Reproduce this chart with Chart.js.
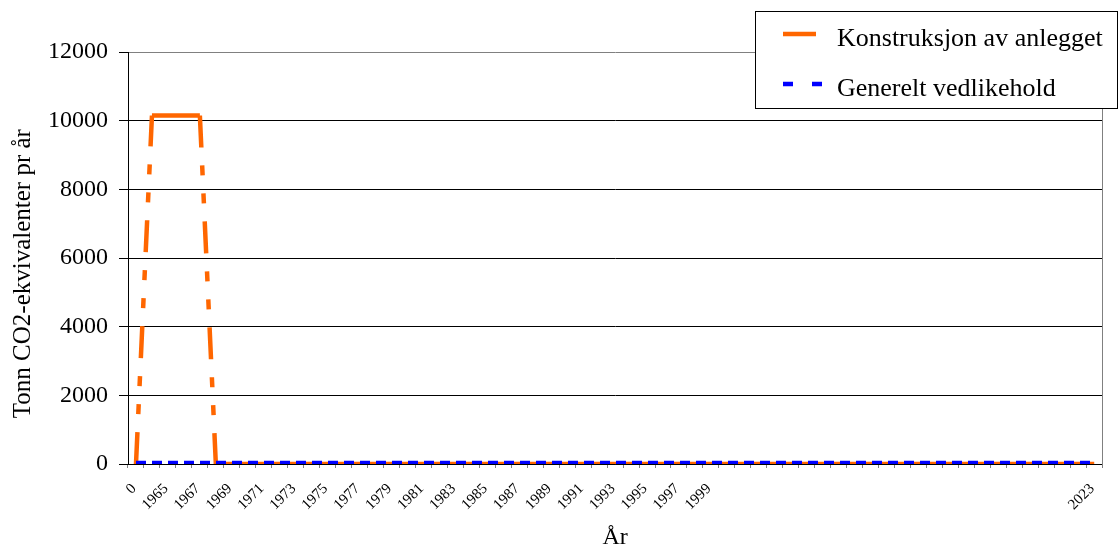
<!DOCTYPE html>
<html>
<head>
<meta charset="utf-8">
<script src="https://cdn.jsdelivr.net/npm/chart.js@4.4.1/dist/chart.umd.min.js"></script>
<style>
  body { margin: 0; background: #fff; }
  #wrap { width: 1119px; height: 548px; position: relative; }
</style>
</head>
<body>
<div id="wrap"><canvas id="co2Chart"></canvas></div>
<script>
// =========================
// DATA
// =========================

const categories = [
  '0', '1964', '1965', '1966', '1967', '1968', '1969', '1970', '1971', '1972',
  '1973', '1974', '1975', '1976', '1977', '1978', '1979', '1980', '1981', '1982',
  '1983', '1984', '1985', '1986', '1987', '1988', '1989', '1990', '1991', '1992',
  '1993', '1994', '1995', '1996', '1997', '1998', '1999', '', '', '',
  '', '', '', '', '', '', '', '', '', '',
  '', '', '', '', '', '', '', '', '', '',
  '2023'
];

const konstruksjon = [
  0, 10150, 10150, 10150, 10150, 0, 0, 0, 0, 0,
  0, 0, 0, 0, 0, 0, 0, 0, 0, 0,
  0, 0, 0, 0, 0, 0, 0, 0, 0, 0,
  0, 0, 0, 0, 0, 0, 0, 0, 0, 0,
  0, 0, 0, 0, 0, 0, 0, 0, 0, 0,
  0, 0, 0, 0, 0, 0, 0, 0, 0, 0,
  0
];

const vedlikehold = [
  30, 30, 30, 30, 30, 30, 30, 30, 30, 30,
  30, 30, 30, 30, 30, 30, 30, 30, 30, 30,
  30, 30, 30, 30, 30, 30, 30, 30, 30, 30,
  30, 30, 30, 30, 30, 30, 30, 30, 30, 30,
  30, 30, 30, 30, 30, 30, 30, 30, 30, 30,
  30, 30, 30, 30, 30, 30, 30, 30, 30, 30,
  30
];

const yTicks = [0, 2000, 4000, 6000, 8000, 10000, 12000];

const FONT = "'Liberation Serif', 'Times New Roman', serif";

// =========================
// LEGEND (boks oppe til høyre)
// =========================

const legendBox = {
  id: 'legendBox',
  afterDraw(chart) {
    const ctx = chart.ctx;
    ctx.save();
    ctx.fillStyle = '#fff';
    ctx.fillRect(755.5, 11.5, 362, 97);
    ctx.strokeStyle = '#000';
    ctx.lineWidth = 1;
    ctx.setLineDash([]);
    ctx.strokeRect(755.5, 11.5, 362, 97);

    ctx.font = '26px ' + FONT;
    ctx.textBaseline = 'alphabetic';
    ctx.fillStyle = '#000';

    const rows = [
      { y: 34, x2: 816, dash: [] },
      { y: 84, x2: 822, dash: [10, 19] }
    ];

    chart.data.datasets.forEach((ds, i) => {
      const r = rows[i];
      ctx.beginPath();
      ctx.strokeStyle = ds.borderColor;
      ctx.lineWidth = 4.5;
      ctx.lineCap = 'butt';
      ctx.setLineDash(r.dash);
      ctx.moveTo(783, r.y);
      ctx.lineTo(r.x2, r.y);
      ctx.stroke();
      ctx.setLineDash([]);
      ctx.fillText(ds.label, 837, r.y + 11.5);
    });
    ctx.restore();
  }
};

// =========================
// CHART
// =========================

const ctx = document.getElementById('co2Chart');

const co2Chart = new Chart(ctx, {
  type: 'line',
  data: {
    labels: categories,
    datasets: [
      {
        label: 'Konstruksjon av anlegget',
        data: konstruksjon,
        borderColor: '#FF6600',
        borderWidth: 4.5,
        borderJoinStyle: 'miter',
        borderCapStyle: 'butt',
        pointRadius: 0,
        tension: 0,
        order: 1,
        // stigningene ser stiplet ut i originalen
        segment: {
          borderDash: c => c.p0.parsed.y !== c.p1.parsed.y ? [32, 18, 10, 18, 10, 18] : undefined
        }
      },
      {
        label: 'Generelt vedlikehold',
        data: vedlikehold,
        borderColor: '#0000FF',
        borderWidth: 4.5,
        borderDash: [10, 6],
        borderCapStyle: 'butt',
        pointRadius: 0,
        tension: 0,
        order: 0
      }
    ]
  },
  options: {
    responsive: true,
    maintainAspectRatio: false,
    animation: false,
    layout: {
      padding: { top: 52, right: 7, left: 0, bottom: 0 }
    },
    plugins: {
      legend: { display: false },
      tooltip: { enabled: false }
    },
    scales: {
      x: {
        type: 'category',
        offset: true,
        grid: {
          offset: true,
          drawOnChartArea: false,
          drawTicks: true,
          tickLength: 4,
          color: '#808080'
        },
        border: { color: '#000', width: 1 },
        ticks: {
          autoSkip: false,
          minRotation: 45,
          maxRotation: 45,
          padding: 12,
          labelOffset: -2,
          color: '#000',
          font: { family: FONT, size: 15 },
          callback: (v, i) => (i % 2 === 0 ? categories[i] : '')
        },
        title: {
          display: true,
          text: 'År',
          color: '#000',
          font: { family: FONT, size: 24, lineHeight: 0.84 },
          padding: 0
        },
        afterFit: s => { s.height = 84; }
      },
      y: {
        min: 0,
        max: 12000,
        afterBuildTicks: s => { s.ticks = yTicks.map(v => ({ value: v })); },
        grid: {
          color: c => (c.tick && c.tick.value === 12000 ? '#808080' : '#000'),
          tickColor: '#000',
          tickLength: 9,
          lineWidth: 1
        },
        border: { color: '#000', width: 1 },
        ticks: {
          padding: 11,
          color: '#000',
          font: { family: FONT, size: 24 },
          callback: v => String(v)
        },
        title: {
          display: true,
          text: 'Tonn CO2-ekvivalenter pr år     ',
          color: '#000',
          font: { family: FONT, size: 25, lineHeight: 1.2 },
          padding: { top: 8, bottom: 0 }
        },
        afterFit: s => { s.width = 128; }
      },
      y2: {
        position: 'right',
        display: true,
        min: 0,
        max: 12000,
        grid: { drawOnChartArea: false, drawTicks: false },
        border: { color: '#808080', width: 1 },
        ticks: { display: false },
        afterFit: s => { s.width = 0; }
      }
    }
  },
  plugins: [legendBox]
});
</script>
</body>
</html>
